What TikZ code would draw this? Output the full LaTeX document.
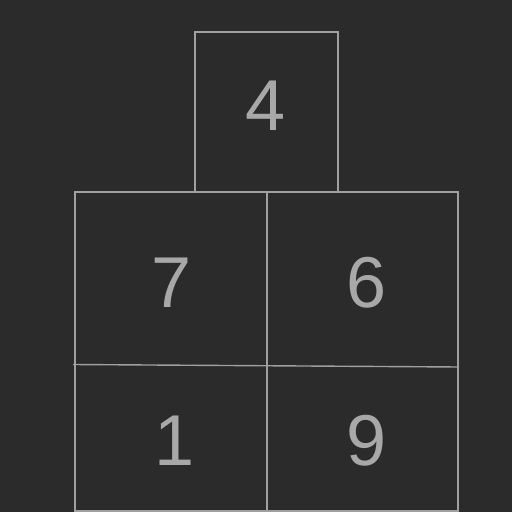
\documentclass[tikz,border=0pt]{standalone}
\usepackage{fontspec}
\setmainfont{Liberation Sans}
\definecolor{bg}{HTML}{2B2B2B}
\definecolor{ln}{HTML}{A0A0A0}
\definecolor{tx}{HTML}{A8A8A8}
\begin{document}
\begin{tikzpicture}[x=1pt,y=-1pt,
  edge/.style={draw=ln,line width=1.4pt},
  digit/.style={text=tx,font=\fontsize{72}{72}\selectfont,inner sep=0pt}]
\fill[bg] (0,0) rectangle (512,512);
\useasboundingbox (0,0) rectangle (512,512);
% top box
\draw[edge] (195,191.5) -- (195,32) -- (338,32) -- (338,191.5);
% outer frame
\draw[edge] (75,192) rectangle (458,511);
% dividers
\coordinate (vt) at (267,192);
\coordinate (vb) at (267,511);
\coordinate (hl) at (73,364.5);
\coordinate (hr) at (459,367);
\draw[edge] (vt) -- (vb);
\draw[edge] (hl) -- (hr);
% digits
\node[digit] (n4) at (266,106) {4};
\node[digit] (n7) at (172,283) {7};
\node[digit] (n6) at (367,283) {6};
\node[digit] (n1) at (175,441) {1};
\node[digit] (n9) at (367,441) {9};
\end{tikzpicture}
\end{document}
